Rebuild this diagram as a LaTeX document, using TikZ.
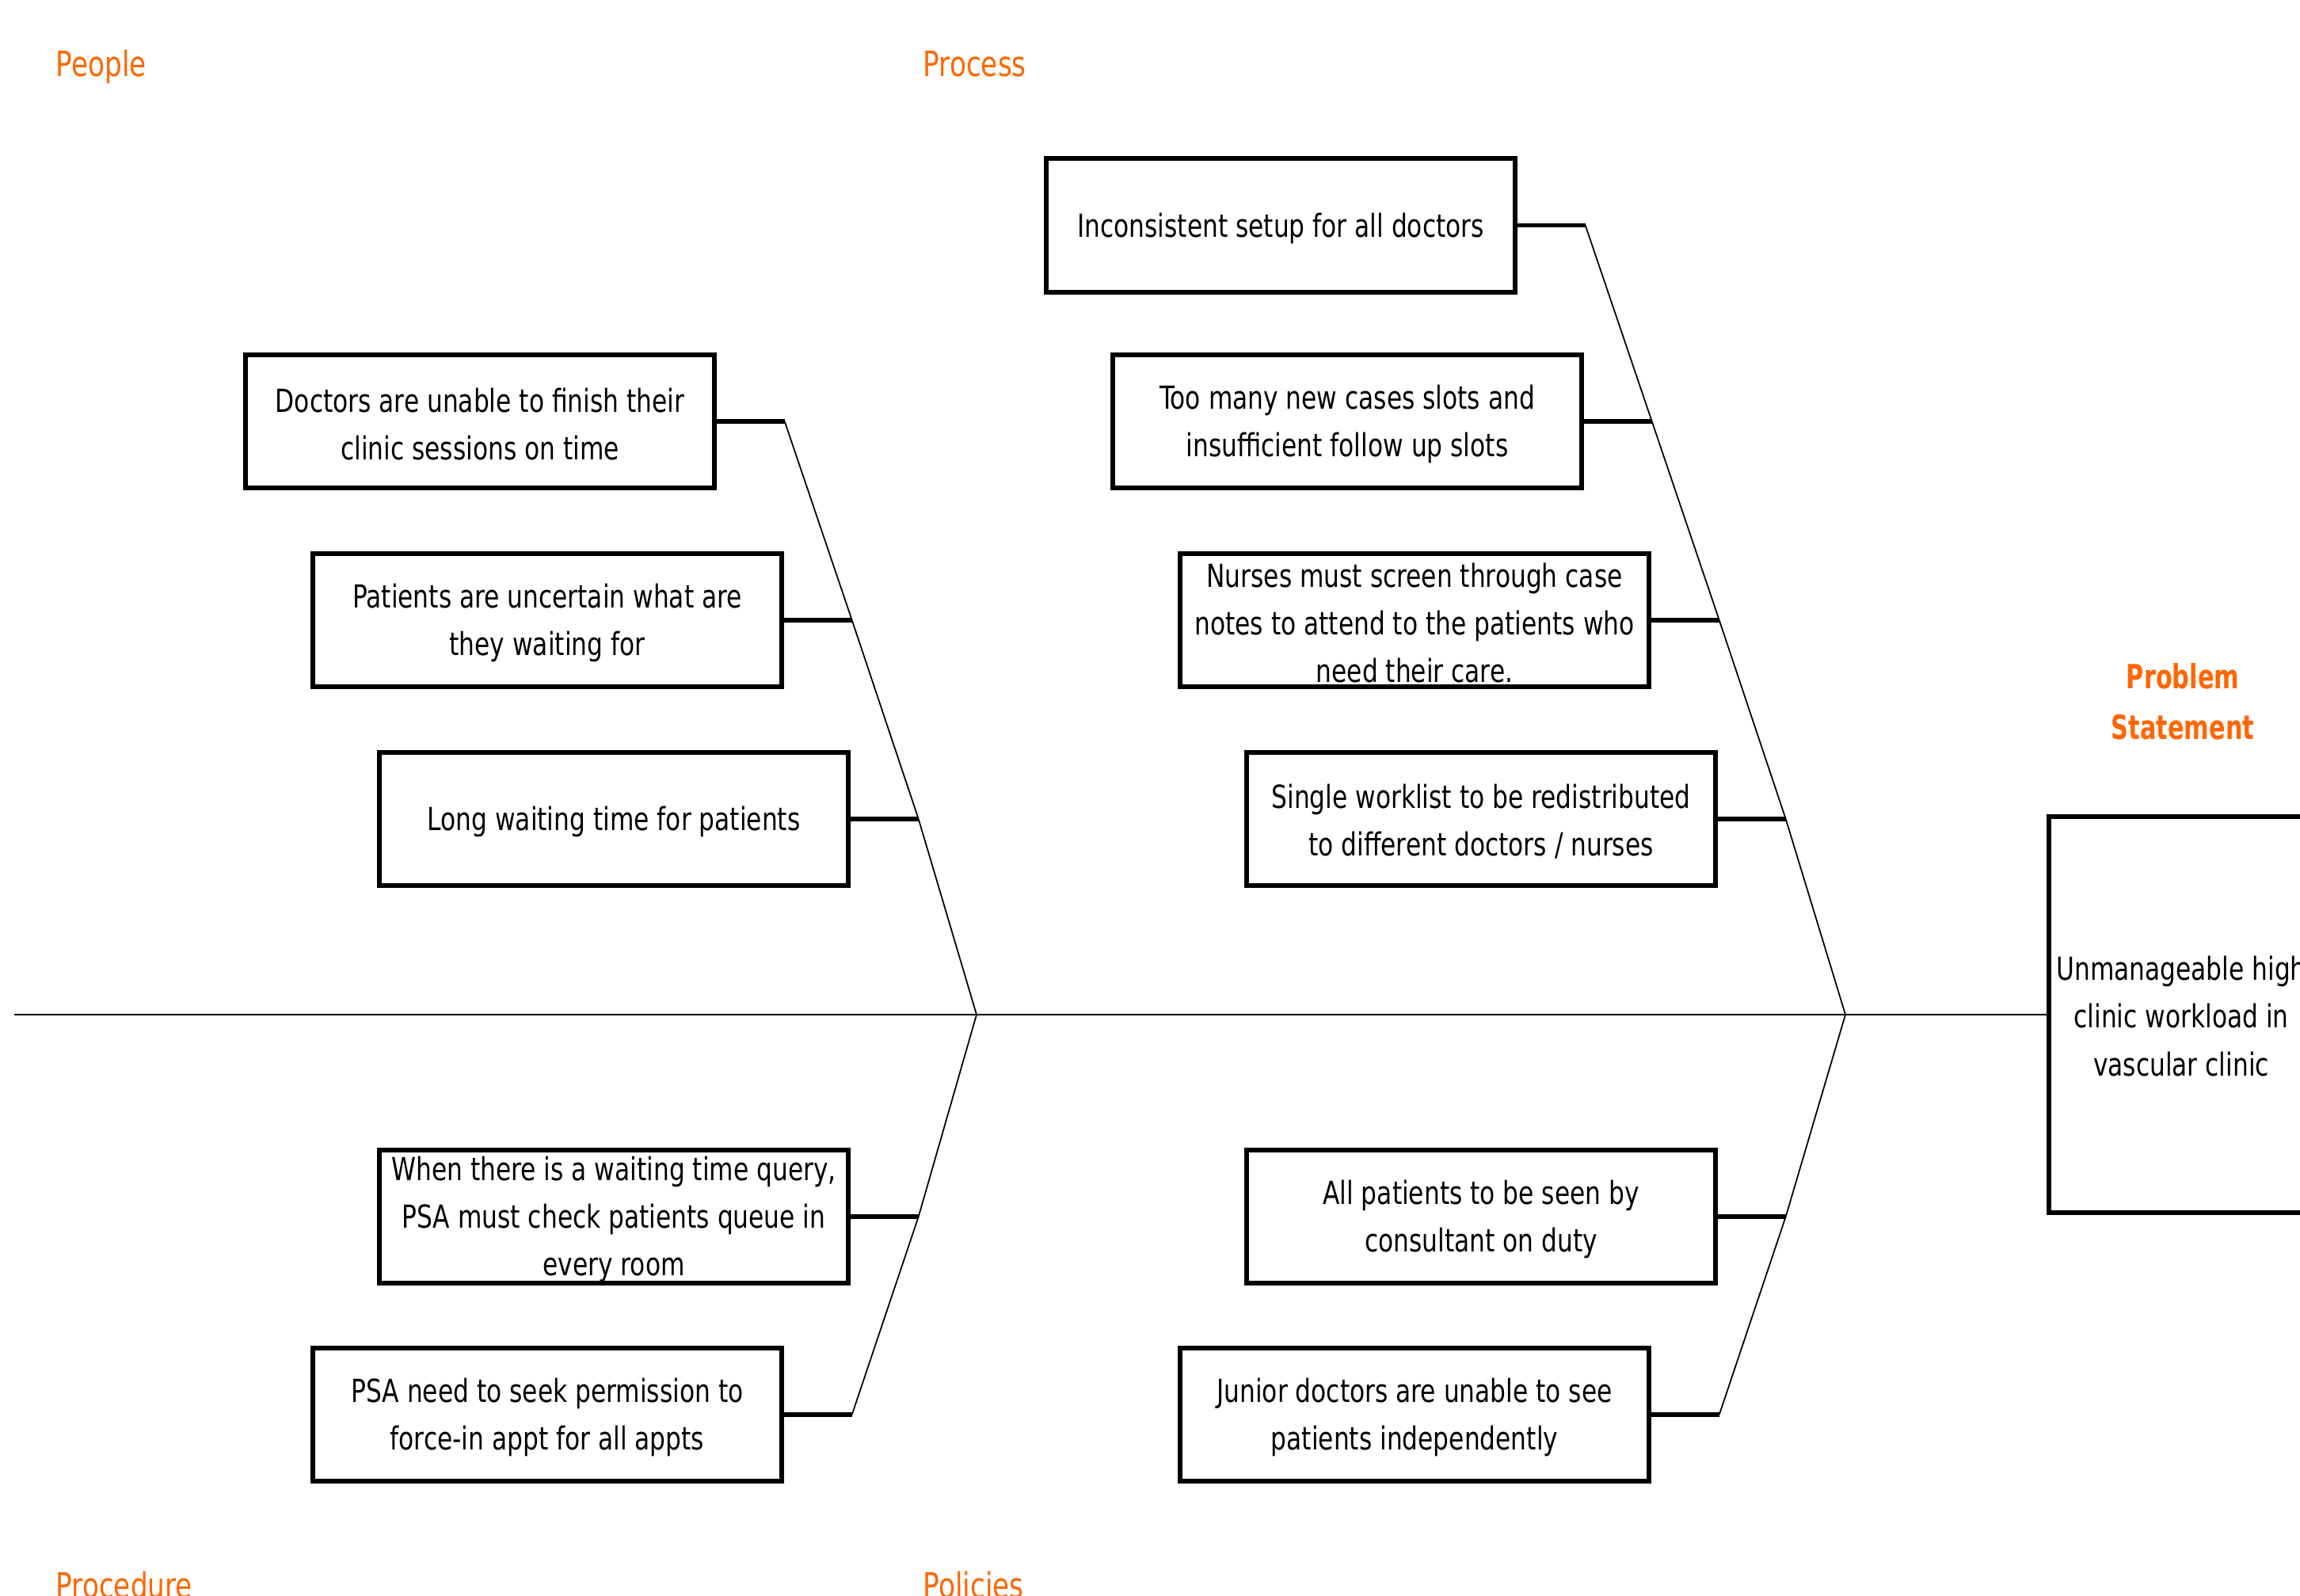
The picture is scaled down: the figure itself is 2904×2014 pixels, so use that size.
\documentclass[tikz,border=0pt]{standalone}
\usepackage{fontspec}
\setmainfont{DejaVu Sans}
\newfontfamily\tah[FakeStretch=0.78]{DejaVu Sans}
\newfontfamily\tahb[FakeStretch=0.72]{DejaVu Sans}
\definecolor{lblorange}{RGB}{255,102,0}
\tikzset{
  causebox/.style={draw, line width=1.7pt, minimum width=5.91cm, minimum height=1.68cm, inner sep=0pt},
  causetext/.style={align=center, font=\tah\fontsize{11.4}{17.07}\selectfont, text=black, inner sep=0pt, yshift=-0.035cm},
  stub/.style={line width=1.5pt},
  bone/.style={line width=0.5pt, line join=round},
  spine/.style={line width=0.8pt},
  cat/.style={font=\tah\fontsize{12.5}{15}\selectfont, text=lblorange, anchor=base west, inner sep=0pt},
  probbox/.style={draw, line width=1.7pt, minimum width=3.34cm, minimum height=5.0cm, inner sep=0pt},
}
\begin{document}
\begin{tikzpicture}[x=0.01cm,y=-0.01cm]
\useasboundingbox (0,0) rectangle (2904,2014);
\clip (0,0) rectangle (2904,2014);
\fill[white] (0,0) rectangle (2904,2014);

% category labels
\node[cat] (lpeople) at (70,96) {People};
\node[cat] (lprocess) at (1165,96) {Process};
\node[cat] (lprocedure) at (70,2017) {Procedure};
\node[cat] (lpolicies) at (1165,2017) {Policies};
\node[align=center, inner sep=0pt, text=lblorange, font=\tahb\bfseries\fontsize{12}{18.2}\selectfont] (lps) at (2756,886) {Problem\\Statement};

% problem box
\node[probbox] (prob) at (2754,1281) {};
\node[causetext, yshift=0.035cm] (probt) at (2754,1283) {Unmanageable high\\clinic workload in\\vascular clinic};

% cause boxes
\node[causebox] (inc) at (1617,284.5) {};
\node[causetext] (inct) at (inc.center) {Inconsistent setup for all doctors};
\node[causebox] (too) at (1701,532) {};
\node[causetext] (toot) at (too.center) {Too many new cases slots and\\insufficient follow up slots};
\node[causebox] (nur) at (1786,783) {};
\node[causetext] (nurt) at (nur.center) {Nurses must screen through case\\notes to attend to the patients who\\need their care.};
\node[causebox] (sin) at (1870,1034) {};
\node[causetext] (sint) at (sin.center) {Single worklist to be redistributed\\to different doctors / nurses};

\node[causebox] (doc) at (606,532) {};
\node[causetext] (doct) at (doc.center) {Doctors are unable to finish their\\clinic sessions on time};
\node[causebox] (pat) at (691,783) {};
\node[causetext] (patt) at (pat.center) {Patients are uncertain what are\\they waiting for};
\node[causebox] (lng) at (775,1034) {};
\node[causetext] (lngt) at (lng.center) {Long waiting time for patients};

\node[causebox] (whn) at (775,1536) {};
\node[causetext] (whnt) at (whn.center) {When there is a waiting time query,\\PSA must check patients queue in\\every room};
\node[causebox] (psa) at (691,1786) {};
\node[causetext] (psat) at (psa.center) {PSA need to seek permission to\\force-in appt for all appts};

\node[causebox] (all) at (1870,1536) {};
\node[causetext] (allt) at (all.center) {All patients to be seen by\\consultant on duty};
\node[causebox] (jun) at (1786,1786) {};
\node[causetext] (junt) at (jun.center) {Junior doctors are unable to see\\patients independently};

% stub end points
\foreach \b in {inc,too,nur,sin,doc,pat,lng,whn,psa,all,jun}{
  \coordinate (s\b) at ([xshift=0.86cm]\b.east);
}
\coordinate (tail) at (18,1281);
\coordinate (J1) at (1233,1281);
\coordinate (J2) at (2330,1281);

% spine
\draw[spine] (tail) -- (prob.west);

% bones
\draw[bone] (sdoc) -- (spat) -- (slng) -- (J1) -- (swhn) -- (spsa);
\draw[bone] (sinc) -- (stoo) -- (snur) -- (ssin) -- (J2) -- (sall) -- (sjun);

% stubs
\foreach \b in {inc,too,nur,sin,doc,pat,lng,whn,psa,all,jun}{
  \draw[stub] (\b.east) -- (s\b);
}
\end{tikzpicture}
\end{document}
